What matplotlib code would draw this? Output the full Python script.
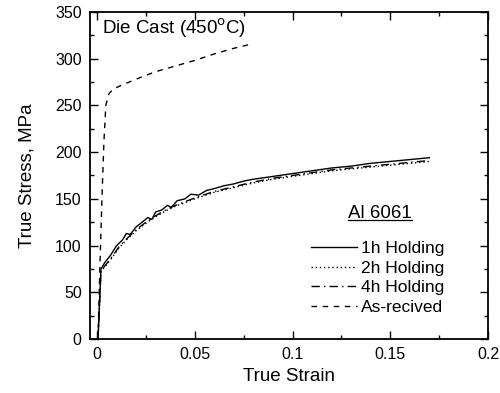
import numpy as np
import matplotlib.pyplot as plt
from matplotlib.ticker import MultipleLocator

plt.rcParams['font.family'] = ['Liberation Sans', 'DejaVu Sans']

# 1h holding (solid, slightly serrated)
strain_1h = [0.0005, 0.0020, 0.0040, 0.0070, 0.0100, 0.0130, 0.0150, 0.0170, 0.0200,
             0.0230, 0.0260, 0.0280, 0.0300, 0.0330, 0.0360, 0.0380, 0.0410, 0.0450,
             0.0480, 0.0520, 0.0560, 0.0600, 0.0650, 0.0700, 0.0750, 0.0800, 0.0900,
             0.1000, 0.1100, 0.1200, 0.1300, 0.1400, 0.1500, 0.1600, 0.1700]
stress_1h = [0, 75, 82, 90, 100, 106, 113, 112, 120, 125, 130, 128, 136, 138, 143, 141,
             148, 150, 155, 154, 159, 161, 164, 166, 169, 171, 174, 177, 180, 183, 185,
             188, 190, 192, 194]

# 2h holding (dotted)
strain_2h = [0.0005, 0.0020, 0.0050, 0.0080, 0.0110, 0.0150, 0.0200, 0.0250, 0.0300,
             0.0350, 0.0400, 0.0450, 0.0500, 0.0600, 0.0700, 0.0800, 0.0900, 0.1000,
             0.1100, 0.1200, 0.1300, 0.1400, 0.1500, 0.1600, 0.1700]
stress_2h = [0, 72, 80, 88, 97, 106, 116, 124, 131, 137, 142, 146, 150, 157, 162, 167,
             171, 174, 177, 180, 182, 184, 186, 188, 190]

# 4h holding (dash-dot)
strain_4h = [0.0005, 0.0020, 0.0050, 0.0080, 0.0110, 0.0150, 0.0200, 0.0250, 0.0300,
             0.0350, 0.0400, 0.0450, 0.0500, 0.0600, 0.0700, 0.0800, 0.0900, 0.1000,
             0.1100, 0.1200, 0.1300, 0.1400, 0.1500, 0.1600, 0.1700]
stress_4h = [0, 73, 81, 89, 98, 107, 117, 125, 132, 138, 143, 147, 151, 158, 163, 168,
             172, 175, 178, 181, 183, 185, 187, 189, 191]

# As-received (dashed)
strain_ar = [0.0005, 0.0015, 0.0025, 0.0035, 0.0045, 0.0060, 0.0080, 0.0120, 0.0200,
             0.0300, 0.0400, 0.0500, 0.0600, 0.0700, 0.0800]
stress_ar = [0, 80, 150, 210, 250, 262, 267, 271, 278, 286, 292, 298, 305, 311, 316]

fig = plt.figure(figsize=(5.0, 3.93), dpi=100)
ax = fig.add_axes([0.18, 0.137, 0.796, 0.833])

ax.plot(strain_1h, stress_1h, color='black', lw=1.0, ls='-', label='1h Holding')
ax.plot(strain_2h, stress_2h, color='black', lw=1.0, ls=(0, (1, 2)), label='2h Holding')
ax.plot(strain_4h, stress_4h, color='black', lw=1.0, ls=(0, (6, 3, 1, 3)), label='4h Holding')
ax.plot(strain_ar, stress_ar, color='black', lw=1.0, ls=(0, (4, 4)), label='As-recived')

ax.set_xlim(-0.0036, 0.2)
ax.set_ylim(0, 350)
ax.xaxis.set_major_locator(MultipleLocator(0.05))
ax.xaxis.set_minor_locator(MultipleLocator(0.025))
ax.yaxis.set_major_locator(MultipleLocator(50))
ax.yaxis.set_minor_locator(MultipleLocator(25))
ax.set_xticks([0, 0.05, 0.1, 0.15, 0.2])
ax.set_xticklabels(['0', '0.05', '0.1', '0.15', '0.2'])
ax.tick_params(which='both', direction='in', top=True, right=True, labelsize=11.5, width=1)
ax.tick_params(which='major', length=6, pad=6)
ax.tick_params(which='minor', length=3)
for s in ax.spines.values():
    s.set_linewidth(1.3)

ax.set_xlabel('True Strain', fontsize=13.5, labelpad=4)
ax.set_ylabel('True Stress, MPa', fontsize=13.5, labelpad=14)

ax.text(0.03, 0.985, 'Die Cast (450$^{\\rm o}$C)', transform=ax.transAxes,
        fontsize=13.5, va='top', ha='left')

t = ax.text(0.729, 0.385, 'Al 6061', transform=ax.transAxes, fontsize=13.5,
            ha='center', va='center')
fig.canvas.draw()
bb = t.get_window_extent().transformed(ax.transAxes.inverted())
ax.plot([bb.x0, bb.x1], [bb.y0 + 0.004, bb.y0 + 0.004], color='black', lw=0.9,
        transform=ax.transAxes)

ax.legend(loc='upper left', bbox_to_anchor=(0.555, 0.30), frameon=False, fontsize=12.5,
          handlelength=2.65, handletextpad=0.25, labelspacing=0.26, borderpad=0,
          borderaxespad=0)

fig.savefig('out.png', dpi=100)
